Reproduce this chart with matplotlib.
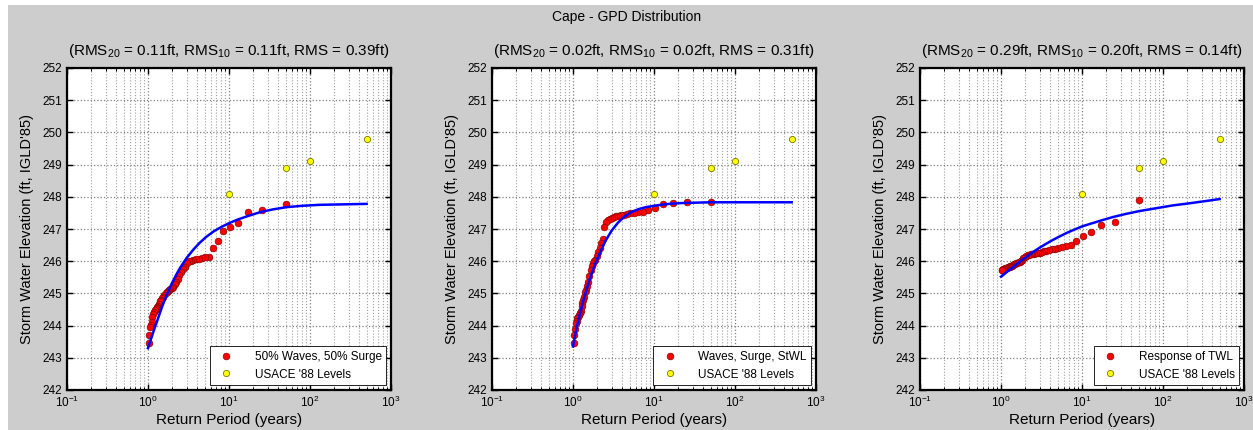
import matplotlib
matplotlib.use('Agg')
import matplotlib.pyplot as plt
from matplotlib.patches import Rectangle
from matplotlib.ticker import LogLocator, FixedLocator, NullFormatter

# empirical return periods (years), shared by all three series
return_period = [51, 25.5, 17, 12.75, 10.2, 8.5, 7.29, 6.38, 5.67, 5.1,
                 4.64, 4.25, 3.92, 3.64, 3.4, 3.19, 3.0, 2.83, 2.68, 2.55,
                 2.43, 2.32, 2.22, 2.13, 2.04, 1.96, 1.89, 1.82, 1.76, 1.7,
                 1.65, 1.59, 1.55, 1.5, 1.46, 1.42, 1.38, 1.34, 1.31, 1.28,
                 1.24, 1.21, 1.19, 1.16, 1.13, 1.11, 1.09, 1.06, 1.04, 1.02]

waves_surge_50 = [247.77, 247.59, 247.52, 247.20, 247.07, 246.94, 246.64, 246.42, 246.14, 246.12,
                  246.10, 246.08, 246.06, 246.04, 246.02, 246.00, 245.93, 245.83, 245.75, 245.66,
                  245.57, 245.45, 245.36, 245.28, 245.21, 245.17, 245.13, 245.10, 245.07, 245.04,
                  245.00, 244.95, 244.90, 244.85, 244.80, 244.75, 244.68, 244.62, 244.58, 244.55,
                  244.52, 244.48, 244.42, 244.35, 244.27, 244.10, 244.02, 243.95, 243.70, 243.45]

waves_surge_stwl = [247.85, 247.83, 247.80, 247.77, 247.66, 247.59, 247.54, 247.52, 247.50, 247.49,
                    247.48, 247.45, 247.43, 247.41, 247.40, 247.36, 247.33, 247.30, 247.27, 247.22,
                    247.07, 246.70, 246.55, 246.42, 246.30, 246.15, 246.05, 246.00, 245.95, 245.85,
                    245.72, 245.55, 245.35, 245.22, 245.12, 245.05, 244.90, 244.80, 244.70, 244.60,
                    244.45, 244.38, 244.32, 244.28, 244.25, 244.15, 244.07, 243.90, 243.70, 243.45]

twl_response = [247.90, 247.21, 247.12, 246.92, 246.78, 246.63, 246.50, 246.46, 246.44, 246.40,
                246.39, 246.37, 246.36, 246.33, 246.31, 246.28, 246.27, 246.25, 246.24, 246.23,
                246.22, 246.21, 246.20, 246.19, 246.16, 246.12, 246.09, 246.05, 246.02, 245.99,
                245.97, 245.95, 245.94, 245.92, 245.90, 245.88, 245.86, 245.85, 245.84, 245.83,
                245.82, 245.81, 245.80, 245.79, 245.78, 245.77, 245.76, 245.75, 245.74, 245.73]

# fitted GPD curves
fit_period = [1.0, 1.1, 1.2, 1.35, 1.5, 1.7, 1.9, 2.2, 2.5, 3.0, 3.6, 4.3, 5.2, 6.5,
              8.0, 10.0, 13, 17, 24, 35, 52, 80, 130, 200, 320, 500]
fit_waves_surge_50 = [243.30, 243.62, 243.90, 244.27, 244.60, 244.95, 245.23, 245.55, 245.80, 246.10,
                      246.35, 246.56, 246.75, 246.93, 247.06, 247.18, 247.30, 247.40, 247.52, 247.61,
                      247.68, 247.72, 247.75, 247.76, 247.77, 247.78]
fit_waves_surge_stwl = [243.35, 243.90, 244.30, 244.80, 245.20, 245.62, 245.95, 246.32, 246.62, 246.95,
                        247.20, 247.38, 247.52, 247.62, 247.68, 247.72, 247.76, 247.79, 247.81, 247.82,
                        247.83, 247.83, 247.83, 247.83, 247.83, 247.83]
fit_twl_response = [245.52, 245.60, 245.68, 245.78, 245.87, 245.98, 246.07, 246.19, 246.29, 246.42,
                    246.54, 246.65, 246.76, 246.88, 246.98, 247.08, 247.17, 247.26, 247.37, 247.47,
                    247.56, 247.64, 247.73, 247.79, 247.86, 247.93]

# USACE 1988 design levels
usace_period = [10, 50, 100, 500]
usace_level = [248.1, 248.9, 249.1, 249.8]

panels = [
    ('(RMS$_{20}$ = 0.11ft, RMS$_{10}$ = 0.11ft, RMS = 0.39ft)', '50% Waves, 50% Surge',
     waves_surge_50, fit_waves_surge_50),
    ('(RMS$_{20}$ = 0.02ft, RMS$_{10}$ = 0.02ft, RMS = 0.31ft)', 'Waves, Surge, StWL',
     waves_surge_stwl, fit_waves_surge_stwl),
    ('(RMS$_{20}$ = 0.29ft, RMS$_{10}$ = 0.20ft, RMS = 0.14ft)', 'Response of TWL',
     twl_response, fit_twl_response),
]

plt.rcParams['font.family'] = ['Liberation Sans', 'DejaVu Sans']
plt.rcParams['mathtext.fontset'] = 'custom'
plt.rcParams['mathtext.rm'] = 'Liberation Sans'

W, H = 1253, 430
fig = plt.figure(figsize=(W / 100, H / 100), dpi=100, facecolor='white')
fig.patches.append(Rectangle((8 / W, 0), 1, 1 - 5 / H, transform=fig.transFigure,
                             facecolor='#cdcdcd', edgecolor='none', zorder=-10))
fig.text(0.5, 1 - 17 / H, 'Cape - GPD Distribution', ha='center', va='center', fontsize=10)

lefts = [67, 492, 920]
for left, (title, label, values, fit) in zip(lefts, panels):
    ax = fig.add_axes([left / W, 1 - 390 / H, 324 / W, 322 / H])
    ax.set_xscale('log')
    ax.set_xlim(0.1, 1000)
    ax.set_ylim(242, 252)

    ax.plot(return_period, values, 'o', color='red', markeredgecolor='#8b0000',
            markeredgewidth=0.5, markersize=4.8, label=label, zorder=3)
    ax.plot(usace_period, usace_level, 'o', color='yellow', markeredgecolor='#777700',
            markeredgewidth=0.6, markersize=4.5, label="USACE '88 Levels", zorder=3)
    ax.plot(fit_period, fit, color='blue', linewidth=1.8, zorder=4)

    ax.yaxis.set_major_locator(FixedLocator(range(242, 253)))
    ax.xaxis.set_major_locator(LogLocator(base=10, numticks=10))
    ax.xaxis.set_minor_locator(LogLocator(base=10, subs=range(2, 10), numticks=10))
    ax.xaxis.set_minor_formatter(NullFormatter())
    ax.grid(True, which='major', color='#808080', linestyle=':', linewidth=0.9)
    ax.grid(True, which='minor', axis='x', color='#a0a0a0', linestyle=':', linewidth=0.8)
    ax.tick_params(which='both', direction='in', top=True, right=True, labelsize=8.5)
    ax.tick_params(which='major', length=4, width=1)
    ax.tick_params(which='minor', length=2, width=0.7)
    for spine in ax.spines.values():
        spine.set_linewidth(1.6)

    ax.set_title(title, fontsize=11, pad=9)
    ax.set_xlabel('Return Period (years)', fontsize=11, labelpad=2)
    ax.set_ylabel("Storm Water Elevation (ft, IGLD'85)", fontsize=10.5, labelpad=6)

    leg = ax.legend(loc='lower right', fontsize=8.5, fancybox=False, framealpha=1,
                    edgecolor='black', handletextpad=1.4, borderaxespad=0.4)
    leg.get_frame().set_linewidth(0.6)

fig.savefig('out.png', dpi=100, facecolor=fig.get_facecolor())
